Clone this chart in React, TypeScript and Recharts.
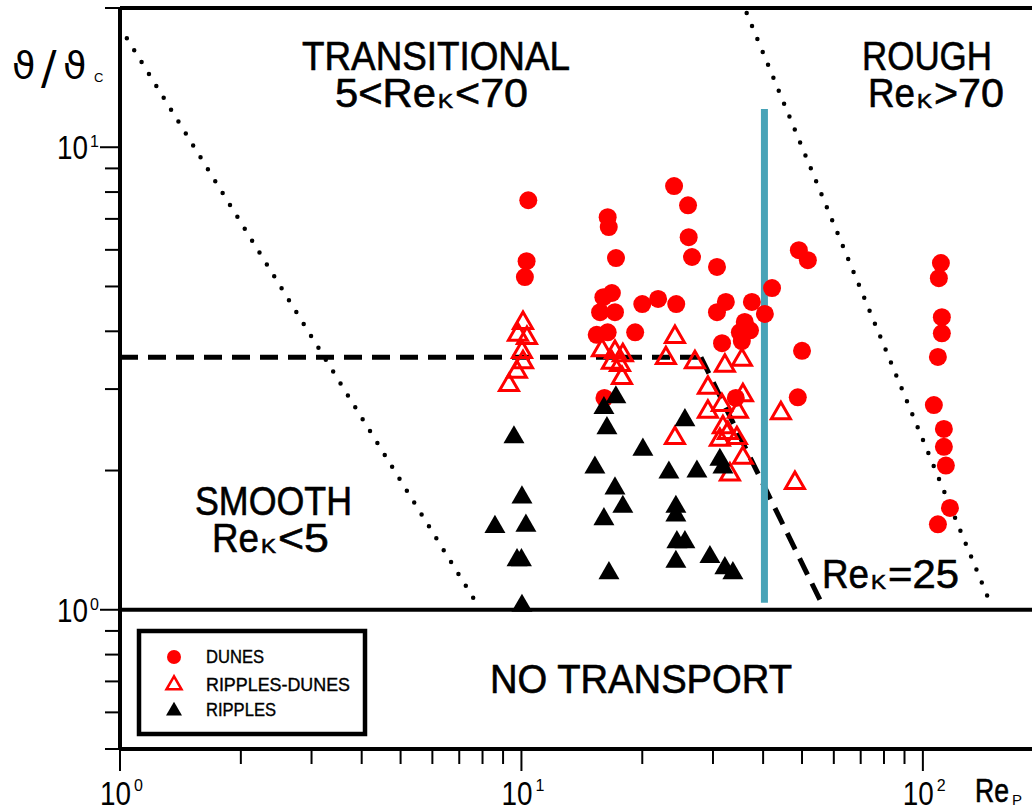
import React from "react";
import { ScatterChart, Scatter, XAxis, YAxis, ReferenceLine } from "recharts";

// [Re_p, theta/theta_c]
const dunes: [number, number][] = [
  [10.4, 7.68], [10.3, 5.67], [10.2, 5.24], [16.4, 7.06], [16.5, 6.72], [17.2, 5.76],
  [16.8, 4.84], [16.0, 4.74], [15.7, 4.4], [17.1, 4.4], [15.4, 3.93], [16.4, 3.98],
  [20.0, 4.58], [19.2, 3.98], [21.9, 4.7], [24.3, 4.58], [24.0, 8.24], [26.0, 7.49],
  [26.1, 6.39], [26.6, 5.79], [30.7, 5.51], [30.7, 4.4], [32.3, 4.63], [37.5, 4.63],
  [42.1, 4.96], [40.4, 4.36], [36.0, 4.19], [37.1, 4.02], [35.0, 3.98], [31.6, 3.77],
  [35.4, 3.81], [50.0, 3.63], [49.1, 5.99], [51.7, 5.7], [16.1, 2.87], [34.2, 2.87],
  [48.8, 2.88], [110.9, 5.62], [109.6, 5.21], [111.5, 4.29], [111.5, 3.96], [109.0, 3.52],
  [106.5, 2.77], [112.8, 2.46], [112.8, 2.25], [114.1, 2.05], [116.8, 1.66], [109.0, 1.53],
];

const ripplesDunes: [number, number][] = [
  [10.09, 4.17], [9.8, 3.93], [10.32, 3.87], [10.03, 3.61], [10.09, 3.43], [9.74, 3.27],
  [9.31, 3.06], [15.87, 3.64], [17.1, 3.61], [17.89, 3.55], [16.8, 3.42], [17.6, 3.38],
  [17.8, 3.17], [24.12, 3.89], [22.9, 3.5], [27.05, 3.43], [32.12, 3.37], [35.42, 3.47],
  [29.14, 3.02], [35.62, 2.91], [31.57, 2.77], [29.14, 2.68], [34.61, 2.68], [31.76, 2.48],
  [32.68, 2.41], [31.21, 2.33], [34.41, 2.35], [24.12, 2.35], [35.62, 2.13], [33.06, 1.96],
  [44.29, 2.66], [48.0, 1.88],
];

const ripples: [number, number][] = [
  [9.58, 2.36], [10.03, 1.75], [8.59, 1.51], [10.26, 1.52], [9.75, 1.28], [10.0, 1.28],
  [10.03, 1.02], [17.19, 2.88], [16.05, 2.73], [16.33, 2.47], [15.24, 2.03], [17.1, 1.83],
  [17.89, 1.67], [16.05, 1.57], [16.52, 1.2], [20.07, 2.22], [23.3, 1.98], [27.36, 1.99],
  [25.54, 2.57], [31.21, 2.11], [31.76, 2.03], [24.25, 1.67], [24.25, 1.6], [24.39, 1.4],
  [25.54, 1.4], [24.25, 1.27], [29.48, 1.3], [32.12, 1.23], [33.63, 1.2],
];

// regime boundaries
const smoothLimit: [number, number][] = [[1.04, 17.2], [7.61, 1.056]];
const roughLimit: [number, number][] = [[36.4, 19.5], [145.4, 1.061]];
const rek25Line: [number, number][] = [[1, 3.515], [28.0, 3.515], [55.4, 1.051]];
const rep40Line: [number, number][] = [[40.3, 1.035], [40.3, 12.1]];

const xDomain: [number, number] = [1, 187];
const yDomain: [number, number] = [0.5, 20];
const xTicks = [1, 2, 3, 4, 5, 6, 7, 8, 9, 10, 20, 30, 40, 50, 60, 70, 80, 90, 100];
const yTicks = [0.5, 0.6, 0.7, 0.8, 0.9, 1, 2, 3, 4, 5, 6, 7, 8, 9, 10, 20];

const RED = "#ff0000";
const FONT = "'Liberation Sans', Arial, sans-serif";

const toPts = (arr: [number, number][]) => arr.map(([x, y]) => ({ x, y }));

const isMajor = (v: number) => Math.abs(Math.log10(v) - Math.round(Math.log10(v))) < 1e-6;

function XTick(props: any) {
  const { x, y, payload } = props;
  const v = payload.value as number;
  const major = isMajor(v);
  return (
    <g>
      <line x1={x} x2={x} y1={y} y2={y + (major ? 22 : 15)} stroke="#000" strokeWidth={2} />
      {major && (
        <g fontFamily={FONT} fill="#000">
          <text x={x - 20} y={y + 56} fontSize={33} textLength={31} lengthAdjust="spacingAndGlyphs">10</text>
          <text x={x + 14} y={y + 42} fontSize={16}>{Math.round(Math.log10(v))}</text>
        </g>
      )}
    </g>
  );
}

function YTick(props: any) {
  const { x, y, payload } = props;
  const v = payload.value as number;
  const major = isMajor(v);
  return (
    <g>
      <line x1={x - (major ? 20 : 15)} x2={x} y1={y} y2={y} stroke="#000" strokeWidth={2} />
      {major && (
        <g fontFamily={FONT} fill="#000">
          <text x={x - 63} y={y + 12} fontSize={33} textLength={31} lengthAdjust="spacingAndGlyphs">10</text>
          <text x={x - 30} y={y} fontSize={16}>{Math.round(Math.log10(v))}</text>
        </g>
      )}
    </g>
  );
}

const tri = (cx: number, cy: number, s: number) => {
  const h = (s * Math.sqrt(3)) / 2;
  return `M${cx},${cy - (2 * h) / 3}L${cx - s / 2},${cy + h / 3}L${cx + s / 2},${cy + h / 3}Z`;
};

const DuneDot = (p: any) => <circle cx={p.cx} cy={p.cy} r={9} fill={RED} />;
const OpenTri = (p: any) => <path d={tri(p.cx, p.cy, 19)} fill="none" stroke={RED} strokeWidth={3} />;
const FullTri = (p: any) => <path d={tri(p.cx, p.cy, 21)} fill="#000" />;

function Sub({ x, y, main, sub, rest, w }: { x: number; y: number; main: string; sub: string; rest: string; w: [number, number, number] }) {
  return (
    <g fontFamily={FONT} fill="#000" stroke="#000" strokeWidth={0.6}>
      <text x={x} y={y} fontSize={40} textLength={w[0]} lengthAdjust="spacingAndGlyphs">{main}</text>
      <text x={x + w[0] + 2} y={y + 1} fontSize={21} textLength={w[1]} lengthAdjust="spacingAndGlyphs">{sub}</text>
      <text x={x + w[0] + w[1] + 4} y={y} fontSize={40} textLength={w[2]} lengthAdjust="spacingAndGlyphs">{rest}</text>
    </g>
  );
}

function Overlay() {
  return (
    <svg width={1032} height={810} style={{ position: "absolute", left: 0, top: 0, pointerEvents: "none" }}>
      <g fontFamily="'DejaVu Sans', sans-serif" fill="#000">
        <text x={12} y={78} fontSize={38}>ϑ</text>
        <text x={41} y={84} fontSize={46}>/</text>
        <text x={63} y={78} fontSize={38}>ϑ</text>
        <text x={94} y={82} fontSize={13} fontFamily={FONT}>C</text>
      </g>
      <g fontFamily={FONT} fill="#000" stroke="#000" strokeWidth={0.6}>
        <text x={302} y={70} fontSize={40} textLength={268} lengthAdjust="spacingAndGlyphs">TRANSITIONAL</text>
        <text x={862} y={70} fontSize={40} textLength={130} lengthAdjust="spacingAndGlyphs">ROUGH</text>
        <text x={195} y={515} fontSize={40} textLength={157} lengthAdjust="spacingAndGlyphs">SMOOTH</text>
        <text x={490} y={693} fontSize={40} textLength={302} lengthAdjust="spacingAndGlyphs">NO TRANSPORT</text>
      </g>
      <g fontFamily={FONT} fill="#000">
        <text x={975} y={802} fontSize={33} textLength={34} lengthAdjust="spacingAndGlyphs" stroke="#000" strokeWidth={0.6}>Re</text>
        <text x={1012} y={805} fontSize={15}>P</text>
      </g>
      <Sub x={335} y={107} main="5<Re" sub="K" rest="<70" w={[101, 15, 73]} />
      <Sub x={868} y={107} main="Re" sub="K" rest=">70" w={[47, 15, 70]} />
      <Sub x={212} y={552} main="Re" sub="K" rest="<5" w={[47, 15, 51]} />
      <Sub x={822} y={588} main="Re" sub="K" rest="=25" w={[47, 15, 71]} />
      <g>
        <rect x={139} y={631} width={226} height={103} fill="#fff" stroke="#000" strokeWidth={4.5} />
        <circle cx={174} cy={657} r={7} fill={RED} />
        <path d={tri(174, 685, 15)} fill="none" stroke={RED} strokeWidth={2.5} />
        <path d={tri(174, 711, 16)} fill="#000" />
        <g fontFamily={FONT} fontSize={19} fill="#000" stroke="#000" strokeWidth={0.4}>
          <text x={206} y={663} textLength={58} lengthAdjust="spacingAndGlyphs">DUNES</text>
          <text x={206} y={691} textLength={144} lengthAdjust="spacingAndGlyphs">RIPPLES-DUNES</text>
          <text x={206} y={716} textLength={70} lengthAdjust="spacingAndGlyphs">RIPPLES</text>
        </g>
      </g>
    </svg>
  );
}

const seg = (a: [number, number][], i: number) =>
  [{ x: a[i][0], y: a[i][1] }, { x: a[i + 1][0], y: a[i + 1][1] }] as any;

export default function App() {
  return (
    <div style={{ position: "absolute", left: 0, top: 0, width: 1032, height: 810, background: "#fff", overflow: "hidden" }}>
      <ScatterChart width={1032} height={810} margin={{ top: 8, right: 0, bottom: 0, left: 0 }}>
        <XAxis
          type="number"
          dataKey="x"
          scale="log"
          domain={xDomain}
          allowDataOverflow
          ticks={xTicks}
          interval={0}
          height={61}
          tickSize={0}
          tickMargin={0}
          tickLine={false}
          axisLine={{ stroke: "#000", strokeWidth: 4 }}
          tick={<XTick />}
        />
        <YAxis
          type="number"
          dataKey="y"
          scale="log"
          domain={yDomain}
          allowDataOverflow
          ticks={yTicks}
          interval={0}
          width={120}
          tickSize={0}
          tickMargin={0}
          tickLine={false}
          axisLine={{ stroke: "#000", strokeWidth: 4 }}
          tick={<YTick />}
        />
        <Scatter data={toPts(dunes)} shape={DuneDot} isAnimationActive={false} />
        <Scatter data={toPts(ripplesDunes)} shape={OpenTri} isAnimationActive={false} />
        <Scatter data={toPts(ripples)} shape={FullTri} isAnimationActive={false} />
        <ReferenceLine y={20} stroke="#000" strokeWidth={4} />
        <ReferenceLine y={1} stroke="#000" strokeWidth={4} />
        <ReferenceLine segment={seg(smoothLimit, 0)} stroke="#000" strokeWidth={4.5} strokeDasharray="0 14" strokeLinecap="round" />
        <ReferenceLine segment={seg(roughLimit, 0)} stroke="#000" strokeWidth={4.5} strokeDasharray="0 14" strokeLinecap="round" />
        <ReferenceLine segment={seg(rek25Line, 0)} stroke="#000" strokeWidth={5} strokeDasharray="18 10" />
        <ReferenceLine segment={seg(rek25Line, 1)} stroke="#000" strokeWidth={5} strokeDasharray="18 10" />
        <ReferenceLine segment={seg(rep40Line, 0)} stroke="#48a3b7" strokeWidth={7} />
      </ScatterChart>
      <Overlay />
    </div>
  );
}
